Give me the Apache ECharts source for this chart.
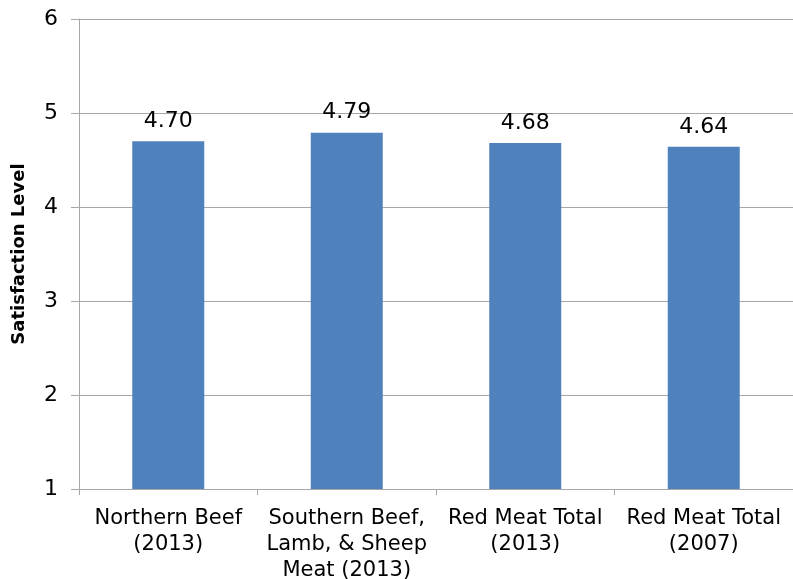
<!DOCTYPE html>
<html>
<head>
<meta charset="utf-8">
<script src="https://cdn.jsdelivr.net/npm/echarts@6/dist/echarts.min.js"></script>
<style>html,body{margin:0;padding:0;background:#fff;}#c{width:793px;height:579px;}</style>
</head>
<body>
<div id="c"></div>
<script>
const categories = [
  "Northern Beef\n(2013)",
  "Southern Beef,\nLamb, & Sheep\nMeat (2013)",
  "Red Meat Total\n(2013)",
  "Red Meat Total\n(2007)"
];
const satisfaction = [4.70, 4.79, 4.68, 4.64];
const yTicks = [1, 2, 3, 4, 5, 6];

const chart = echarts.init(document.getElementById('c'));
chart.setOption({
  animation: false,
  textStyle: { fontFamily: 'DejaVu Sans, Arial, sans-serif' },
  grid: { left: 79, right: 0, top: 19, bottom: 90, containLabel: false, outerBoundsMode: 'none' },
  xAxis: {
    type: 'category',
    data: categories,
    axisLine: { show: true, lineStyle: { color: '#a6a6a6', width: 1 } },
    axisTick: { show: true, length: 6, lineStyle: { color: '#a6a6a6' } },
    axisLabel: { color: '#000', fontSize: 21, lineHeight: 26, margin: 17, interval: 0 }
  },
  yAxis: {
    type: 'value',
    min: yTicks[0],
    max: yTicks[yTicks.length - 1],
    interval: 1,
    name: 'Satisfaction Level',
    nameLocation: 'middle',
    nameGap: 51,
    nameTextStyle: { color: '#000', fontSize: 18, fontWeight: 'bold' },
    axisLine: { show: true, lineStyle: { color: '#a6a6a6', width: 1 } },
    axisTick: { show: true, length: 8, lineStyle: { color: '#a6a6a6' } },
    axisLabel: { color: '#000', fontSize: 22, margin: 21 },
    splitLine: { show: true, lineStyle: { color: '#a6a6a6', width: 1 } }
  },
  series: [{
    type: 'bar',
    data: satisfaction,
    barWidth: 72,
    itemStyle: { color: '#4F81BD' },
    label: {
      show: true,
      position: 'top',
      distance: 9,
      color: '#000',
      fontSize: 22,
      formatter: p => p.value.toFixed(2)
    }
  }]
});
</script>
</body>
</html>
